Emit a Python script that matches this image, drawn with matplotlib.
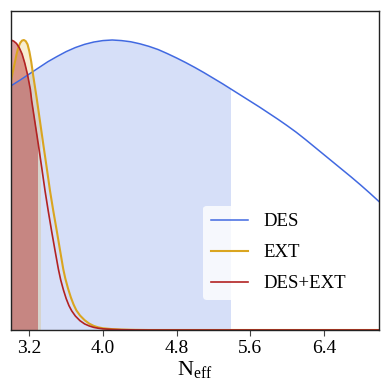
"""
Posterior of N_eff: DES, EXT and DES+EXT marginals with shaded 95% regions.
"""

import matplotlib
matplotlib.use("Agg")
import matplotlib.pyplot as plt
from matplotlib.patches import Rectangle

# ---------------------------------------------------------------------------
# Data (normalised to peak = 1)
# ---------------------------------------------------------------------------

des_x = [3.0, 3.1, 3.2, 3.3, 3.4, 3.5, 3.6, 3.7, 3.8, 3.9, 4.0,
         4.1, 4.2, 4.3, 4.4, 4.5, 4.6, 4.7, 4.8, 4.9, 5.0,
         5.1, 5.2, 5.3, 5.4, 5.5, 5.6, 5.7, 5.8, 5.9, 6.0,
         6.1, 6.2, 6.3, 6.4, 6.5, 6.6, 6.7, 6.8, 6.9, 7.0]
des_y = [0.842, 0.862, 0.883, 0.904, 0.925, 0.943, 0.960, 0.974, 0.985, 0.993, 0.998,
         1.000, 0.998, 0.994, 0.987, 0.978, 0.967, 0.953, 0.938, 0.922, 0.905,
         0.887, 0.868, 0.849, 0.829, 0.809, 0.789, 0.769, 0.748, 0.727, 0.705,
         0.682, 0.657, 0.631, 0.605, 0.579, 0.553, 0.527, 0.500, 0.472, 0.443]

ext_x = [3.0, 3.02, 3.04, 3.06, 3.08, 3.10, 3.12, 3.14, 3.16, 3.18, 3.20,
         3.22, 3.242, 3.279, 3.315, 3.351, 3.388, 3.424, 3.46, 3.497, 3.533,
         3.568, 3.59, 3.62, 3.65, 3.68, 3.71, 3.75, 3.80, 3.85, 3.90,
         3.95, 4.0, 4.1, 4.2, 4.35, 4.5, 7.0]
ext_y = [0.86, 0.89, 0.92, 0.95, 0.975, 0.99, 0.998, 1.0, 0.996, 0.985, 0.96,
         0.925, 0.876, 0.80, 0.72, 0.64, 0.56, 0.48, 0.41, 0.343, 0.275,
         0.21, 0.178, 0.143, 0.113, 0.088, 0.068, 0.050, 0.034, 0.022, 0.014,
         0.009, 0.006, 0.003, 0.0015, 0.0005, 0.0, 0.0]

comb_x = [3.0, 3.03, 3.06, 3.09, 3.12, 3.15, 3.18, 3.21, 3.225, 3.261, 3.297,
          3.334, 3.37, 3.405, 3.442, 3.478, 3.515, 3.54, 3.57, 3.60, 3.63,
          3.66, 3.70, 3.75, 3.80, 3.85, 3.90, 3.95, 4.0, 4.1, 4.2,
          4.35, 4.5, 7.0]
comb_y = [1.0, 0.996, 0.988, 0.973, 0.952, 0.92, 0.88, 0.83, 0.79, 0.715, 0.64,
          0.56, 0.48, 0.41, 0.34, 0.275, 0.21, 0.173, 0.138, 0.108, 0.084,
          0.066, 0.048, 0.032, 0.021, 0.014, 0.009, 0.006, 0.004, 0.002, 0.001,
          0.0003, 0.0, 0.0]

# upper edge of the shaded credible region for each posterior
des_cut = 5.38
ext_cut = 3.315
comb_cut = 3.279

labels = ["DES", "EXT", "DES+EXT"]
tick_vals = [3.2, 4.0, 4.8, 5.6, 6.4]
tick_labels = ["3.2", "4.0", "4.8", "5.6", "6.4"]

# ---------------------------------------------------------------------------
# Plot
# ---------------------------------------------------------------------------

plt.rcParams["font.family"] = ["Liberation Serif", "DejaVu Serif"]
plt.rcParams["mathtext.fontset"] = "custom"
plt.rcParams["mathtext.rm"] = "Liberation Serif"
plt.rcParams["mathtext.it"] = "Liberation Serif:italic"

fig = plt.figure(figsize=(3.9, 3.89), dpi=100)
ax = fig.add_axes([11 / 390, 59 / 389, 368 / 390, 319 / 389])

colors = ["#4169e1", "#daa520", "#b22222"]
fill_alpha = [0.21, 0.2, 0.43]
series = [(des_x, des_y, des_cut), (ext_x, ext_y, ext_cut), (comb_x, comb_y, comb_cut)]

for (x, y, cut), c, a in zip(series, colors, fill_alpha):
    poly = ax.fill_between(x, 0, y, color=c, alpha=a, lw=0)
    clip = Rectangle((x[0], 0), cut - x[0], 2, transform=ax.transData)
    poly.set_clip_path(clip)

widths = [1.1, 1.5, 1.2]
for (x, y, _), c, lw, lab in zip(series, colors, widths, labels):
    ax.plot(x, y, color=c, lw=lw, label=lab)

ax.set_xlim(3.0, 7.0)
ax.set_ylim(0, 1.1)
ax.set_yticks([])
ax.set_xticks(tick_vals)
ax.set_xticklabels(tick_labels)
ax.tick_params(axis="x", direction="out", length=4, width=0.8, pad=3,
               labelsize=14, color="#444444")
for sp in ax.spines.values():
    sp.set_linewidth(1.0)
    sp.set_color("#222222")

ax.set_xlabel(r"$\mathrm{N}_{\mathrm{eff}}$", fontsize=16, labelpad=2)

leg = ax.legend(loc="lower left", bbox_to_anchor=((203 - 11) / 368, 30 / 319),
                borderaxespad=0, fontsize=13.5, frameon=True, framealpha=0.8,
                facecolor="white", labelspacing=0.75, handletextpad=0.8)
leg.get_frame().set_edgecolor("none")

fig.savefig("out.png", dpi=100)
plt.close(fig)
